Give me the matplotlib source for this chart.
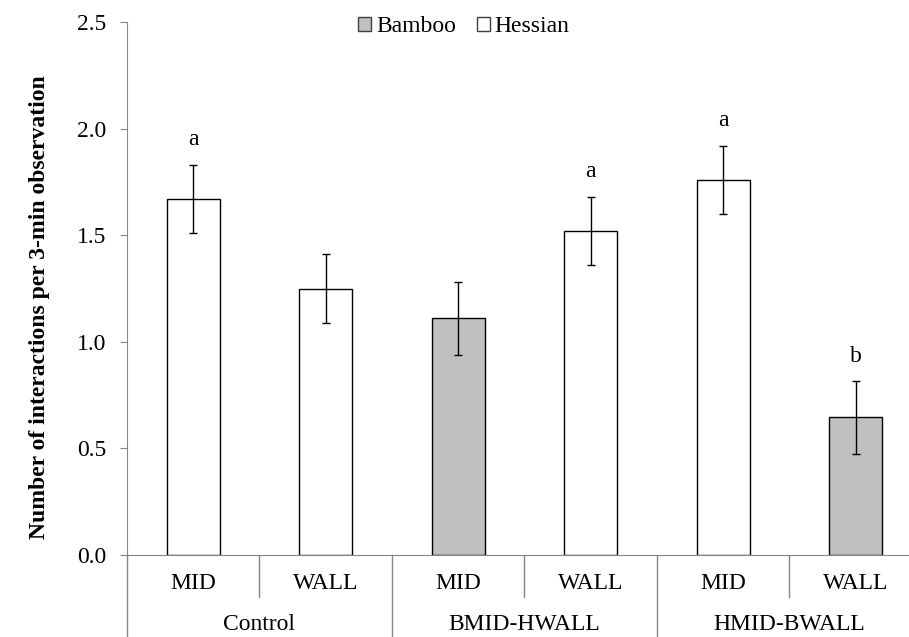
import matplotlib
matplotlib.use("Agg")
import matplotlib.pyplot as plt
from matplotlib.patches import Patch
import matplotlib.transforms as mtransforms

plt.rcParams['font.family'] = ['Liberation Serif', 'DejaVu Serif']

groups = ['Control', 'BMID-HWALL', 'HMID-BWALL']
positions = ['MID', 'WALL', 'MID', 'WALL', 'MID', 'WALL']
means = [1.67, 1.25, 1.11, 1.52, 1.76, 0.645]
errs = [0.16, 0.16, 0.17, 0.16, 0.16, 0.17]
material = ['Hessian', 'Hessian', 'Bamboo', 'Hessian', 'Hessian', 'Bamboo']
letters = ['a', '', '', 'a', 'a', 'b']
yticks = [0.0, 0.5, 1.0, 1.5, 2.0, 2.5]

colors = {'Bamboo': '#c0c0c0', 'Hessian': '#ffffff'}

fig = plt.figure(figsize=(9.09, 6.37), dpi=100)
ax = fig.add_axes([127/909, 82/637, 795/909, 533/637])

x = list(range(len(means)))
ax.bar(x, means, width=0.4, color=[colors[m] for m in material],
       edgecolor='black', linewidth=1.0, zorder=2)
ax.errorbar(x, means, yerr=errs, fmt='none', ecolor='black', elinewidth=1.0,
            capsize=3, capthick=1.0, zorder=3)
for xi, m, e, l in zip(x, means, errs, letters):
    if l:
        ax.annotate(l, (xi, m + e), xytext=(0, 18), textcoords='offset points',
                    ha='center', va='center', fontsize=17)

ax.set_xlim(-0.5, len(means) - 0.5)
ax.set_ylim(0, 2.5)
ax.set_yticks(yticks)
ax.set_yticklabels([f'{t:.1f}' for t in yticks], fontsize=17)
ax.set_xticks([])
spine_c = '#868686'
for s in ['top', 'right']:
    ax.spines[s].set_visible(False)
ax.spines['left'].set_color(spine_c)
ax.spines['bottom'].set_color(spine_c)
ax.tick_params(axis='y', direction='out', length=5, color=spine_c, pad=10)

trans = mtransforms.blended_transform_factory(ax.transData, ax.transAxes)
ax.plot([-0.5, -0.5], [0, -0.25], transform=trans, color=spine_c, lw=1.0, clip_on=False)
for i, p in enumerate(positions):
    ax.text(i, -0.053, p, transform=trans, ha='center', va='center', fontsize=17)
for i in range(1, len(positions)):
    if i % 2 == 1:
        ax.plot([i - 0.5, i - 0.5], [0, -0.079], transform=trans, color=spine_c, lw=1.0, clip_on=False)
    else:
        ax.plot([i - 0.5, i - 0.5], [0, -0.25], transform=trans, color=spine_c, lw=1.0, clip_on=False)
for g, name in enumerate(groups):
    ax.text(2 * g + 0.5, -0.131, name, transform=trans, ha='center', va='center', fontsize=17)

fig.text(40/909, 1 - 307/637, 'Number of interactions per 3-min observation', rotation=90,
         ha='center', va='center', fontsize=17, fontweight='bold')

handles = [Patch(facecolor=colors[k], edgecolor='#404040', label=k) for k in ['Bamboo', 'Hessian']]
fig.legend(handles=handles, loc='center', bbox_to_anchor=(464/909, 1 - 27/637), ncol=2,
           frameon=False, fontsize=17, handlelength=0.55, handleheight=0.55,
           handletextpad=0.2, columnspacing=0.9)

fig.savefig('out.png', dpi=100)
